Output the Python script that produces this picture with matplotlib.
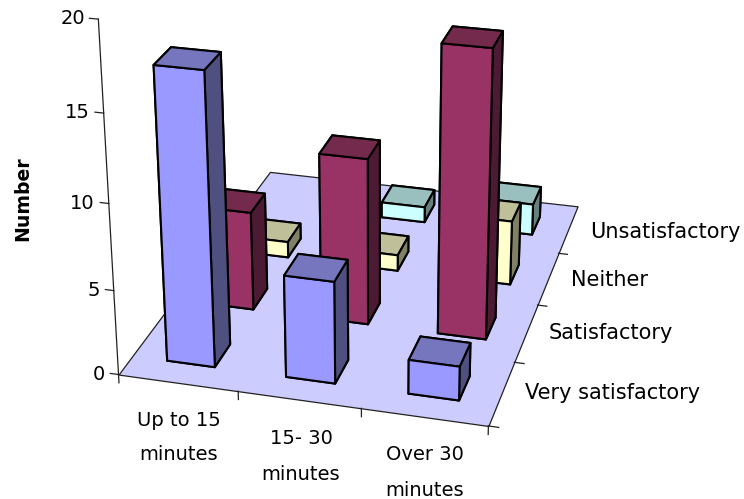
import matplotlib; matplotlib.use('Agg')
import matplotlib.pyplot as plt
from mpl_toolkits.mplot3d.art3d import Poly3DCollection

plt.rcParams['font.family'] = ['DejaVu Sans']

WAITS = ['Up to 15\nminutes', '15- 30\nminutes', 'Over 30\nminutes']
RATINGS = ['Very satisfactory', 'Satisfactory', 'Neither', 'Unsatisfactory']
Z_TICKS = [0, 5, 10, 15, 20]

very_satisfactory = [17, 6, 2]
satisfactory = [6, 10, 17]
neither = [1, 1, 4]
unsatisfactory = [0, 1, 2]
SERIES = [very_satisfactory, satisfactory, neither, unsatisfactory]

# front, top and side shades of each series
FACES = [
    ('#9999FF', '#7676BE', '#4F4F80'),
    ('#993366', '#732A4D', '#4D1A33'),
    ('#FFFFCC', '#BFBF99', '#808066'),
    ('#CCFFFF', '#99BFBF', '#668080'),
]
FLOOR = '#CCCCFF'
BAR_W, BAR_D = 0.4046, 0.3848

W, H = 744, 499
fig = plt.figure(figsize=(W / 100, H / 100), dpi=100)
side = 678.8
ax = fig.add_axes([17.2 / W, (H - 472.15) / H, side / W, side / H],
                  projection='3d', computed_zorder=False)
ax.set_xlim(0, 3, view_margin=0)
ax.set_ylim(0, 4, view_margin=0)
ax.set_zlim(0, 20, view_margin=0)
ax.view_init(23.3189, -74.8551, 0.1341)
ax.set_proj_type('persp', focal_length=0.5647)
ax.set_box_aspect((2.4490, 3.2590, 2.4573))
ax.set_axis_off()
ax.patch.set_visible(False)

# floor
floor = Poly3DCollection([[(0, 0, 0), (3, 0, 0), (3, 4, 0), (0, 4, 0)]],
                         facecolor=FLOOR, edgecolor='#222222', linewidth=0.9, zorder=1)
ax.add_collection3d(floor)


def tick(xs, ys, zs):
    ax.plot(xs, ys, zs, color='#222222', lw=0.9, zorder=2)


# value axis and its ticks
tick([0, 0], [0, 0], [0, 20])
for z in Z_TICKS:
    tick([-0.07, 0], [0, 0], [z, z])
for i in range(len(WAITS) + 1):
    tick([i, i], [0, 0], [-0.5, 0])
for j in range(len(RATINGS)):
    tick([3, 3.08], [j, j], [0, 0])

# bars, drawn back to front
order = 3
for j in reversed(range(len(SERIES))):
    for i, val in enumerate(SERIES[j]):
        if val == 0:
            continue
        front, top, right = FACES[j]
        # bar3d face order: -Z, +Z, -Y, +Y, -X, +X
        colors = [top, top, front, right, right, right]
        col = ax.bar3d(i + 0.5 - BAR_W / 2, j + 0.5 - BAR_D / 2, 0, BAR_W, BAR_D, val,
                       color=colors, edgecolor='black', linewidth=1.5, shade=False)
        col.set_zorder(order)
        order += 1


def label(px, py, s, **kw):
    fig.text(px / W, 1 - py / H, s, va='center', **kw)


for z, py, right_px in zip(Z_TICKS, [375, 290, 203, 113, 19], [105, 100, 94, 90, 85]):
    label(right_px, py, str(z), ha='right', fontsize=14)

for name, px, py1, py2 in zip(WAITS, [179, 301, 425], [421, 439, 455], [455, 474, 490]):
    first, second = name.split('\n')
    label(px, py1, first, ha='center', fontsize=14)
    label(px, py2, second, ha='center', fontsize=14)

for name, px, py in zip(RATINGS, [525, 549, 571, 590], [393, 333, 280, 232]):
    label(px, py, name, ha='left', fontsize=15)

label(23, 199, 'Number', ha='center', rotation=90, fontweight='bold', fontsize=13.6)

fig.savefig('out.png', dpi=100)
